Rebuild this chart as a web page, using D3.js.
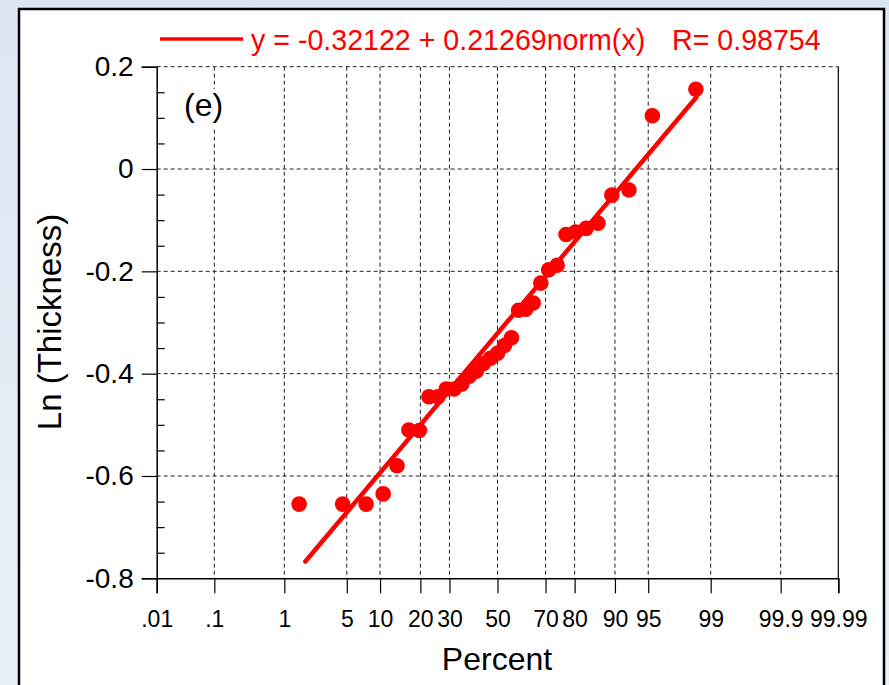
<!DOCTYPE html>
<html>
<head>
<meta charset="utf-8">
<script src="https://cdn.jsdelivr.net/npm/d3@7"></script>
<style>
  html, body { margin: 0; padding: 0; }
  body { width: 889px; height: 685px; overflow: hidden; }
  text { font-family: "Liberation Sans", Arial, sans-serif; }
</style>
</head>
<body>
<svg id="chart" width="889" height="685"></svg>
<script>
// ---- data ----
const percents = [1.52, 4.55, 7.58, 10.61, 13.64, 16.67, 19.70, 22.73, 25.76, 28.79, 31.82,
  34.85, 37.88, 40.91, 43.94, 46.97, 50.00, 53.03, 56.06, 59.09, 62.12, 65.15, 68.18,
  71.21, 74.24, 77.27, 80.30, 83.33, 86.36, 89.39, 92.42, 95.45, 98.48];
const lnThickness = [-0.655, -0.655, -0.655, -0.635, -0.580, -0.510, -0.511, -0.445, -0.445,
  -0.430, -0.430, -0.420, -0.405, -0.395, -0.380, -0.370, -0.360, -0.345, -0.330,
  -0.276, -0.274, -0.262, -0.223, -0.197, -0.188, -0.128, -0.123, -0.116, -0.106,
  -0.051, -0.041, 0.104, 0.156];
const fitIntercept = -0.32122;
const fitSlope = 0.21269;
const fitR = 0.98754;
const fitRange = [1.8, 98.5];
const xTickValues = [0.01, 0.1, 1, 5, 10, 20, 30, 50, 70, 80, 90, 95, 99, 99.9, 99.99];
const xTickLabels = [".01", ".1", "1", "5", "10", "20", "30", "50", "70", "80", "90", "95", "99", "99.9", "99.99"];
const yTickValues = [0.2, 0, -0.2, -0.4, -0.6, -0.8];
const yMinorValues = [0.15, 0.1, 0.05, -0.05, -0.1, -0.15, -0.25, -0.3, -0.35, -0.45, -0.5, -0.55, -0.65, -0.7, -0.75];

// inverse normal CDF (Acklam)
function qnorm(p) {
  const a = [-3.969683028665376e+01, 2.209460984245205e+02, -2.759285104469687e+02, 1.383577518672690e+02, -3.066479806614716e+01, 2.506628277459239e+00];
  const b = [-5.447609879822406e+01, 1.615858368580409e+02, -1.556989798598866e+02, 6.680131188771972e+01, -1.328068155288572e+01];
  const c = [-7.784894002430293e-03, -3.223964580411365e-01, -2.400758277161838e+00, -2.549732539343734e+00, 4.374664141464968e+00, 2.938163982698783e+00];
  const d = [7.784695709041462e-03, 3.224671290700398e-01, 2.445134137142996e+00, 3.754408661907416e+00];
  const plow = 0.02425, phigh = 1 - plow;
  let q, r;
  if (p < plow) {
    q = Math.sqrt(-2 * Math.log(p));
    return (((((c[0]*q+c[1])*q+c[2])*q+c[3])*q+c[4])*q+c[5]) / ((((d[0]*q+d[1])*q+d[2])*q+d[3])*q+1);
  } else if (p <= phigh) {
    q = p - 0.5; r = q*q;
    return (((((a[0]*r+a[1])*r+a[2])*r+a[3])*r+a[4])*r+a[5])*q / (((((b[0]*r+b[1])*r+b[2])*r+b[3])*r+b[4])*r+1);
  } else {
    q = Math.sqrt(-2 * Math.log(1 - p));
    return -(((((c[0]*q+c[1])*q+c[2])*q+c[3])*q+c[4])*q+c[5]) / ((((d[0]*q+d[1])*q+d[2])*q+d[3])*q+1);
  }
}

const svg = d3.select("#chart");

// background
const defs = svg.append("defs");
const grad = defs.append("linearGradient").attr("id", "bg").attr("x1", 0).attr("y1", 0).attr("x2", 0).attr("y2", 1);
grad.append("stop").attr("offset", "0%").attr("stop-color", "#dce6f2");
grad.append("stop").attr("offset", "100%").attr("stop-color", "#eaf0f8");
svg.append("rect").attr("width", 889).attr("height", 685).attr("fill", "url(#bg)");
svg.append("rect").attr("x", 19).attr("y", 9).attr("width", 865).attr("height", 690)
  .attr("fill", "#ffffff").attr("stroke", "#000").attr("stroke-width", 2.5);

const L = 156.7, R = 838.3, T = 66.7, B = 578.3;
const xz = d3.scaleLinear().domain([qnorm(0.0001), qnorm(0.9999)]).range([L, R]);
const xp = p => xz(qnorm(p / 100));
const y = d3.scaleLinear().domain([-0.8, 0.2]).range([B, T]);

// grid
const grid = svg.append("g").attr("stroke", "#222").attr("stroke-width", 1).attr("stroke-dasharray", "4,3");
grid.selectAll("line.v").data(xTickValues.slice(1, -1)).join("line")
  .attr("x1", d => xp(d)).attr("x2", d => xp(d)).attr("y1", T).attr("y2", B);
grid.selectAll("line.h").data(yTickValues.slice(0, -1)).join("line")
  .attr("x1", L).attr("x2", R).attr("y1", d => y(d)).attr("y2", d => y(d));

// frame (right solid)
svg.append("line").attr("x1", R).attr("x2", R).attr("y1", T).attr("y2", B).attr("stroke", "#000").attr("stroke-width", 1.2);

// axes
const xAxis = d3.axisBottom(xz)
  .tickValues(xTickValues.map(p => qnorm(p / 100)))
  .tickFormat((d, i) => xTickLabels[i])
  .tickSize(15).tickPadding(17);
const gx = svg.append("g").attr("transform", `translate(0,${B})`).call(xAxis);
gx.select(".domain").attr("stroke-width", 1.5);
gx.selectAll("text").attr("font-size", 23).attr("font-family", "Liberation Sans, Arial, sans-serif").attr("fill", "#000");
gx.selectAll(".tick line").attr("stroke-width", 1.2);

const yAxis = d3.axisLeft(y).tickValues(yTickValues)
  .tickFormat(d => d === 0 ? "0" : String(d))
  .tickSize(15).tickPadding(8);
const gy = svg.append("g").attr("transform", `translate(${L},0)`).call(yAxis);
gy.select(".domain").attr("stroke-width", 1.5);
gy.selectAll("text").attr("font-size", 28).attr("font-family", "Liberation Sans, Arial, sans-serif").attr("fill", "#000");
gy.selectAll(".tick line").attr("stroke-width", 1.2);

const yMinor = d3.axisLeft(y).tickValues(yMinorValues).tickSize(-8).tickFormat("");
const gym = svg.append("g").attr("transform", `translate(${L},0)`).call(yMinor);
gym.select(".domain").remove();
gym.selectAll(".tick line").attr("stroke-width", 1.2);

// axis titles
svg.append("text").attr("x", 497).attr("y", 670).attr("text-anchor", "middle")
  .attr("font-size", 32).text("Percent");
svg.append("text").attr("transform", "translate(61,322) rotate(-90)").attr("text-anchor", "middle")
  .attr("font-size", 33).text("Ln (Thickness)");

// panel label with white backing
svg.append("rect").attr("x", 182).attr("y", 89).attr("width", 48).attr("height", 38).attr("fill", "#fff");
svg.append("text").attr("x", 184).attr("y", 116).attr("font-size", 32).text("(e)");

// fit line
const red = "#ff0000";
svg.append("line")
  .attr("x1", xp(fitRange[0])).attr("y1", y(fitIntercept + fitSlope * qnorm(fitRange[0] / 100)))
  .attr("x2", xp(fitRange[1])).attr("y2", y(fitIntercept + fitSlope * qnorm(fitRange[1] / 100)))
  .attr("stroke", red).attr("stroke-width", 4.5).attr("stroke-linecap", "round");

// points
svg.append("g").selectAll("circle").data(percents).join("circle")
  .attr("cx", d => xp(d)).attr("cy", (d, i) => y(lnThickness[i])).attr("r", 7.8).attr("fill", red);

// legend
svg.append("line").attr("x1", 160).attr("x2", 243).attr("y1", 39).attr("y2", 39)
  .attr("stroke", red).attr("stroke-width", 3.5);
svg.append("text").attr("x", 251).attr("y", 50).attr("font-size", 28.6).attr("fill", red)
  .text(`y = ${fitIntercept} + ${fitSlope}norm(x)`);
svg.append("text").attr("x", 672).attr("y", 50).attr("font-size", 28.6).attr("fill", red)
  .text(`R= ${fitR}`);
</script>
</body>
</html>
